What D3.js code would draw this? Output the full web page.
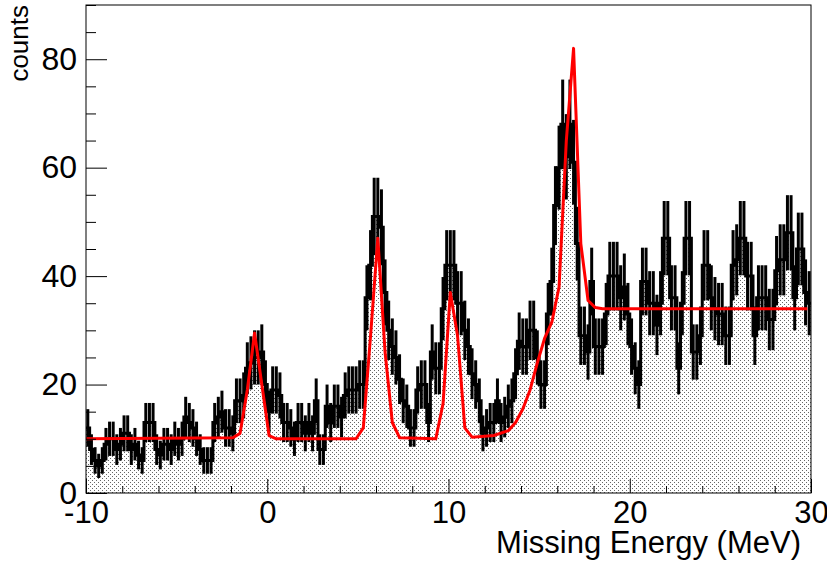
<!DOCTYPE html>
<html>
<head>
<meta charset="utf-8">
<script src="https://cdn.jsdelivr.net/npm/d3@7"></script>
<style>
  body { margin: 0; background: #fff; }
  svg { display: block; }
  text { font-family: "Liberation Sans", Arial, Helvetica, sans-serif; fill: #000; }
</style>
</head>
<body>
<div id="chart"></div>
<script>
// histogram: 200 bins from -10 to 30 MeV
const binLow = -10
const binHigh = 30
const counts = [
  12, 8, 6, 5, 6, 9, 10, 10, 8, 9, 11, 11, 8, 9, 7, 6, 13, 13, 13, 8,
  7, 9, 9, 8, 10, 9, 10, 14, 13, 12, 10, 8, 6, 6, 6, 13, 14, 15, 12, 12,
  11, 17, 17, 18, 23, 24, 25, 25, 26, 20,
  15, 19, 19, 18, 13, 13, 12, 10, 13, 13, 11, 13, 11, 17, 8, 8, 16, 13, 16, 16,
  14, 18, 19, 19, 19, 20, 20, 36, 42, 51, 51, 49, 37, 30, 27, 25, 21, 17, 16, 12,
  12, 19, 20, 20, 13, 26, 23, 23, 34, 42,
  42, 42, 35, 35, 30, 27, 22, 20, 17, 11, 12, 13, 13, 17, 13, 14, 16, 17, 22, 28,
  27, 27, 30, 30, 25, 20, 20, 33, 39, 53, 60, 68, 62, 68, 61, 46, 29, 29, 26, 39,
  27, 27, 27, 33, 40, 40, 40, 36, 38, 33,
  27, 23, 20, 39, 39, 35, 35, 31, 35, 47, 47, 36, 36, 23, 35, 47, 47, 26, 26, 29,
  42, 42, 36, 34, 33, 33, 29, 29, 42, 43, 47, 47, 40, 40, 29, 36, 36, 36, 32, 32,
  41, 43, 43, 48, 48, 36, 45, 45, 37, 35
]

// fit curve
const fitX = [-10, -1.9, -1.5, -1.1, -0.7, -0.3, 0.1, 0.5, 4.9, 5.3, 5.7, 6.1, 6.5, 6.9, 7.3,
  9.3, 9.7, 10.1, 10.5, 10.9, 11.3, 12.5, 13.3, 13.7, 14.1, 14.5, 14.9, 15.3, 15.7,
  16.1, 16.5, 16.9, 17.3, 17.7, 18.1, 18.5, 29.8]
const fitY = [10, 10.2, 11, 19, 29.5, 20, 10.6, 10, 10, 12, 29, 47, 26, 13, 10.2,
  10, 16.5, 37, 29, 12, 10.3, 10.6, 11.5, 13, 15.5, 19, 24, 28.5, 31.5,
  38, 65, 82, 46, 35.5, 34.2, 34, 34]

const xMajorTicks = [-10, 0, 10, 20, 30]
const yMajorTicks = [0, 20, 40, 60, 80]

const width = 827
const height = 565
const margin = { top: 5, right: 16, bottom: 72, left: 86 }

const svg = d3.select('#chart')
  .append('svg')
  .attr('width', width)
  .attr('height', height)

const x = d3.scaleLinear()
  .domain([binLow, binHigh])
  .range([margin.left, width - margin.right])
const y = d3.scaleLinear()
  .domain([0, 90])
  .range([height - margin.bottom, margin.top])

const binW = (binHigh - binLow) / counts.length
const bins = counts.map((c, i) => ({
  lo: binLow + i * binW,
  hi: binLow + (i + 1) * binW,
  c: c
}))

// dotted fill pattern
const defs = svg.append('defs')
const pat = defs.append('pattern')
  .attr('id', 'dots')
  .attr('patternUnits', 'userSpaceOnUse')
  .attr('width', 4)
  .attr('height', 4)
pat.append('rect').attr('x', 0).attr('y', 0).attr('width', 1).attr('height', 1).attr('fill', '#666')
pat.append('rect').attr('x', 2).attr('y', 2).attr('width', 1).attr('height', 1).attr('fill', '#666')

defs.append('clipPath').attr('id', 'frameClip')
  .append('rect')
  .attr('x', margin.left)
  .attr('y', margin.top)
  .attr('width', width - margin.left - margin.right)
  .attr('height', height - margin.top - margin.bottom)

const plot = svg.append('g').attr('clip-path', 'url(#frameClip)')

// step outline of the histogram
const stepPts = []
bins.forEach(b => {
  stepPts.push([x(b.lo), y(b.c)])
  stepPts.push([x(b.hi), y(b.c)])
})
const line = d3.line()

const areaPts = [[x(binLow), y(0)]].concat(stepPts, [[x(binHigh), y(0)]])
plot.append('path')
  .attr('d', line(areaPts) + 'Z')
  .attr('fill', 'url(#dots)')

plot.append('path')
  .attr('d', line(stepPts))
  .attr('fill', 'none')
  .attr('stroke', '#000')
  .attr('stroke-width', 3)

// error bars
plot.append('g')
  .selectAll('line')
  .data(bins)
  .enter()
  .append('line')
  .attr('x1', d => x((d.lo + d.hi) / 2))
  .attr('x2', d => x((d.lo + d.hi) / 2))
  .attr('y1', d => y(d.c - Math.sqrt(d.c)))
  .attr('y2', d => y(d.c + Math.sqrt(d.c)))
  .attr('stroke', '#000')
  .attr('stroke-width', 3)

// fit function
plot.append('path')
  .attr('d', line(fitX.map((v, i) => [x(v), y(fitY[i])])))
  .attr('fill', 'none')
  .attr('stroke', '#ff0000')
  .attr('stroke-width', 3)
  .attr('stroke-linejoin', 'round')

// frame
svg.append('rect')
  .attr('x', margin.left)
  .attr('y', margin.top)
  .attr('width', width - margin.left - margin.right)
  .attr('height', height - margin.top - margin.bottom)
  .attr('fill', 'none')
  .attr('stroke', '#000')
  .attr('stroke-width', 1)

// axes, ticks pointing inward
const fontSize = 31
const xMinor = d3.range(binLow, binHigh + 0.001, 2).filter(v => xMajorTicks.indexOf(v) < 0)
const yMinor = d3.range(0, 90.001, 5).filter(v => yMajorTicks.indexOf(v) < 0)

const gx = svg.append('g')
  .attr('transform', `translate(0,${height - margin.bottom})`)
gx.append('g')
  .call(d3.axisBottom(x).tickValues(xMinor).tickSize(-7).tickSizeOuter(0).tickFormat(''))
gx.append('g')
  .call(d3.axisBottom(x).tickValues(xMajorTicks).tickSize(-14).tickSizeOuter(0)
    .tickPadding(8).tickFormat(d => String(d)))
gx.selectAll('.domain').remove()
gx.selectAll('line').attr('stroke', '#000')
gx.selectAll('text')
  .attr('font-size', fontSize)
  .attr('font-family', '"Liberation Sans", Arial, sans-serif')

const gy = svg.append('g')
  .attr('transform', `translate(${margin.left},0)`)
gy.append('g')
  .call(d3.axisLeft(y).tickValues(yMinor).tickSize(-10).tickSizeOuter(0).tickFormat(''))
gy.append('g')
  .call(d3.axisLeft(y).tickValues(yMajorTicks).tickSize(-21).tickSizeOuter(0)
    .tickPadding(9).tickFormat(d => String(d)))
gy.selectAll('.domain').remove()
gy.selectAll('line').attr('stroke', '#000')
gy.selectAll('text')
  .attr('font-size', 32)
  .attr('font-family', '"Liberation Sans", Arial, sans-serif')

// axis titles
svg.append('text')
  .attr('x', 801)
  .attr('y', 553)
  .attr('text-anchor', 'end')
  .attr('font-size', fontSize)
  .text('Missing Energy (MeV)')

svg.append('text')
  .attr('transform', 'translate(28,5) rotate(-90)')
  .attr('text-anchor', 'end')
  .attr('font-size', 26)
  .text('counts')
</script>
</body>
</html>
